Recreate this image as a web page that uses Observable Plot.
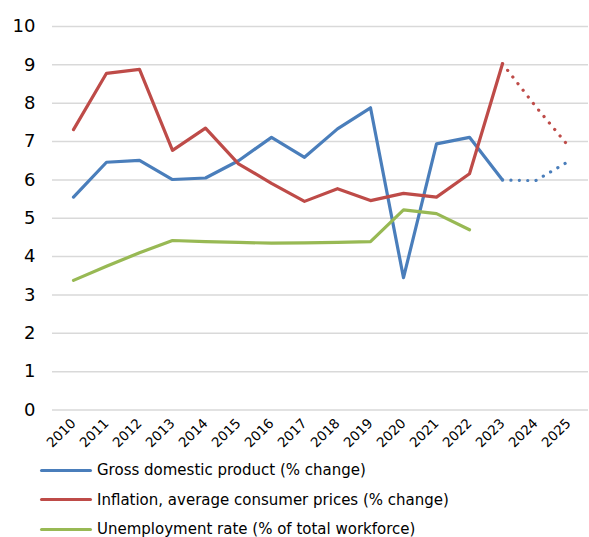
<!DOCTYPE html>
<html>
<head>
<meta charset="utf-8">
<script src="https://cdn.jsdelivr.net/npm/d3@7"></script>
<script src="https://cdn.jsdelivr.net/npm/@observablehq/plot@0.6"></script>
<style>
  body { margin: 0; background: #fff; font-family: "DejaVu Sans", sans-serif; }
  #chart svg { display: block; }
  .legend { position: relative; height: 82px; }
  .row { position: absolute; left: 40px; display: flex; align-items: center; font-size: 15px; color: #000; }
  .sw { width: 52px; height: 3px; border-radius: 2px; margin-right: 5px; }
</style>
</head>
<body>
<div id="chart"></div>
<div class="legend" id="legend"></div>
<script>
const years = ["2010","2011","2012","2013","2014","2015","2016","2017","2018","2019","2020","2021","2022","2023","2024","2025"];
const gdp = [5.55, 6.46, 6.51, 6.01, 6.05, 6.5, 7.11, 6.59, 7.33, 7.88, 3.45, 6.94, 7.11, 6.0, 5.98, 6.48];
const inflation = [7.31, 8.78, 8.88, 6.77, 7.35, 6.42, 5.91, 5.44, 5.77, 5.46, 5.65, 5.55, 6.16, 9.03, 7.92, 6.88];
const unemployment = [3.38, 3.75, 4.1, 4.42, 4.39, 4.37, 4.35, 4.36, 4.37, 4.39, 5.22, 5.12, 4.70, null, null, null];
const forecastStart = "2023";
const yTicks = [0,1,2,3,4,5,6,7,8,9,10];

const seriesNames = [
  "Gross domestic product (% change)",
  "Inflation, average consumer prices (% change)",
  "Unemployment rate (% of total workforce)"
];
const colors = ["#4a7ebb", "#be4b48", "#98b954"];
const seriesValues = [gdp, inflation, unemployment];

const rows = [];
seriesValues.forEach((vals, s) => {
  vals.forEach((v, i) => {
    if (v != null) rows.push({series: seriesNames[s], year: years[i], value: v, idx: i});
  });
});
const fi = years.indexOf(forecastStart);
const actual = rows.filter(d => d.idx <= fi);
const forecast = rows.filter(d => d.idx >= fi && d.series !== seriesNames[2]);

const font = "DejaVu Sans, sans-serif";
const chart = Plot.plot({
  width: 589,
  height: 455,
  marginTop: 26,
  marginBottom: 45.5,
  marginLeft: 52,
  marginRight: 1,
  style: {fontFamily: font, background: "#fff"},
  x: {type: "point", domain: years, padding: 0.5, label: null},
  y: {domain: [0, 10], label: null},
  color: {domain: seriesNames, range: colors},
  marks: [
    Plot.gridY(yTicks, {stroke: "#d9d9d9", strokeOpacity: 1, strokeWidth: 1.5}),
    Plot.axisY(yTicks, {tickSize: 0, tickPadding: 17, fontSize: 18, fill: "#000", label: null}),
    Plot.axisX(years, {tickSize: 0, tickPadding: 11, tickRotate: -45, fontSize: 13.5, fill: "#000", label: null}),
    Plot.line(actual, {x: "year", y: "value", z: "series", stroke: "series", strokeWidth: 3.2, strokeLinejoin: "round"}),
    Plot.line(forecast, {x: "year", y: "value", z: "series", stroke: "series", strokeWidth: 3.2, strokeLinecap: "round", strokeDasharray: "0.1,8.3"})
  ]
});
document.getElementById("chart").appendChild(chart);

const legend = document.getElementById("legend");
seriesNames.forEach((name, i) => {
  const r = document.createElement("div");
  r.className = "row";
  r.style.top = (6 + i * 29.5) + "px";
  r.innerHTML = `<span class="sw" style="background:${colors[i]}"></span><span>${name}</span>`;
  legend.appendChild(r);
});
</script>
</body>
</html>
